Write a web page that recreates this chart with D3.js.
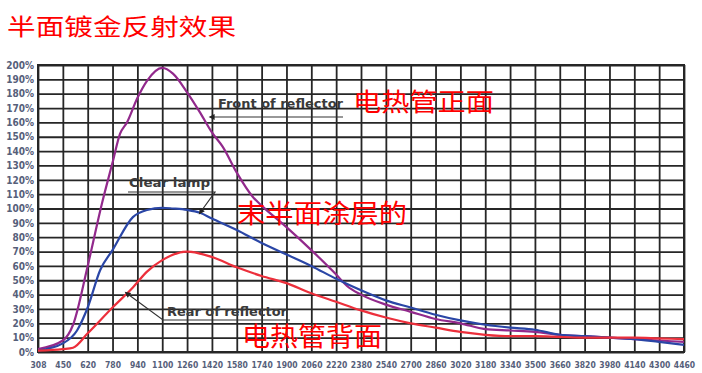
<!DOCTYPE html>
<html>
<head>
<meta charset="utf-8">
<script src="https://cdn.jsdelivr.net/npm/d3@7"></script>
<style>
  body { margin: 0; background: #fff; }
  svg { display: block; }
  .grid line { stroke: #262626; stroke-width: 1.8; }
  .grid path { display: none; }
  .tick text { fill: #56607a; font-family: "DejaVu Sans", sans-serif; font-stretch: condensed; font-weight: bold; }
  .note { font-family: "DejaVu Sans", sans-serif; font-stretch: condensed; font-weight: bold; fill: #3a3a3a; font-size: 12px; }
  .cn { font-family: "Noto Sans CJK SC", sans-serif; fill: #ff0000; }
</style>
</head>
<body>
<div id="chart"></div>
<script>
// chart size
const width = 702;
const height = 373;

// x tick labels (wavelength, nm) - evenly spaced on the chart
const xTicks = [308, 450, 620, 780, 940, 1100, 1260, 1420, 1580, 1740, 1900, 2060, 2220, 2380,
  2540, 2700, 2860, 3020, 3180, 3340, 3500, 3660, 3820, 3980, 4140, 4300, 4460];
// y tick values (%)
const yTicks = d3.range(0, 201, 10);

// Front of reflector (purple)
const frontX = [308, 450, 520, 620, 713, 780, 828, 873, 940, 1002, 1100, 1169, 1260, 1343, 1420, 1490,
  1580, 1684, 1740, 1900, 2060, 2220, 2290, 2380, 2540, 2700, 2860, 3020, 3180, 3340, 3500, 3660,
  3820, 3980, 4140, 4300, 4460];
const frontY = [2, 8, 19, 60, 104, 132, 152, 160, 177, 189, 198, 194, 181, 167, 153, 143,
  125, 108, 102, 87, 71, 54, 46, 40, 33, 28, 23, 20, 16, 15, 14, 12,
  11, 10, 9, 8, 7];

// Clear lamp (blue)
const clearX = [308, 450, 547, 620, 700, 780, 911, 1002, 1100, 1169, 1260, 1343, 1420, 1580, 1740,
  1900, 2060, 2220, 2380, 2540, 2700, 2860, 3020, 3180, 3340, 3500, 3660, 3820, 3980, 4140, 4300, 4460];
const clearY = [1, 6, 15, 31, 57, 71, 94, 99, 100.5, 100, 99, 97, 93, 85, 76,
  68, 60, 51, 43, 36, 31, 26, 22, 19, 17, 15.5, 12, 11, 10, 9, 7, 5];

// Rear of reflector (red)
const rearX = [308, 450, 520, 620, 780, 911, 1002, 1100, 1260, 1426, 1580, 1740, 1900, 2060, 2220,
  2380, 2540, 2700, 2860, 3020, 3180, 3340, 3500, 3660, 3820, 3980, 4140, 4300, 4460];
const rearY = [1, 2, 3, 13, 31, 45, 56, 64, 70, 66, 59, 53, 48, 41, 35,
  29, 24, 20, 17, 14, 12, 11, 11, 10.5, 10, 10, 10, 9.5, 9];

const series = [
  { xs: frontX, ys: frontY, color: "#92298c" },
  { xs: clearX, ys: clearY, color: "#2a46a6" },
  { xs: rearX, ys: rearY, color: "#ec2f3b" }
];

const plot = { left: 38, right: 684, top: 65, bottom: 352 };

const svg = d3.select("#chart")
  .append("svg")
  .attr("width", width)
  .attr("height", height);

// piecewise scale: ticks are evenly spaced
const x = d3.scaleLinear()
  .domain(xTicks)
  .range(xTicks.map((d, i) => plot.left + i * (plot.right - plot.left) / (xTicks.length - 1)));

const y = d3.scaleLinear()
  .domain([0, 200])
  .range([plot.bottom, plot.top]);

// grid + labels
svg.append("g")
  .attr("class", "grid")
  .attr("transform", `translate(0,${plot.bottom})`)
  .call(d3.axisBottom(x).tickValues(xTicks).tickFormat(d3.format("d"))
    .tickSize(-(plot.bottom - plot.top)).tickPadding(10))
  .selectAll("text")
  .style("font-size", "8.5px");

svg.append("g")
  .attr("class", "grid")
  .attr("transform", `translate(${plot.left},0)`)
  .call(d3.axisLeft(y).tickValues(yTicks).tickFormat(d => d + "%")
    .tickSize(-(plot.right - plot.left)).tickPadding(4))
  .selectAll("text")
  .style("font-size", "10px");

svg.append("rect")
  .attr("x", plot.left).attr("y", plot.top)
  .attr("width", plot.right - plot.left).attr("height", plot.bottom - plot.top)
  .attr("fill", "none").attr("stroke", "#262626").attr("stroke-width", 2);

// curves
const line = d3.line()
  .x(d => x(d[0]))
  .y(d => y(d[1]))
  .curve(d3.curveMonotoneX);

series.forEach(s => {
  svg.append("path")
    .datum(s.xs.map((d, i) => [d, s.ys[i]]))
    .attr("fill", "none")
    .attr("stroke", s.color)
    .attr("stroke-width", 2.2)
    .attr("d", line);
});

// arrow marker
svg.append("defs").append("marker")
  .attr("id", "arrow")
  .attr("viewBox", "0 0 10 10")
  .attr("refX", 1).attr("refY", 5)
  .attr("markerWidth", 7).attr("markerHeight", 5)
  .attr("orient", "auto-start-reverse")
  .append("path")
  .attr("d", "M0,0L10,5L0,10z")
  .attr("fill", "#222");

function leader(points) {
  svg.append("path")
    .attr("d", d3.line()(points))
    .attr("fill", "none")
    .attr("stroke", "#333")
    .attr("stroke-width", 1.2)
    .attr("marker-start", "url(#arrow)");
}

// annotations
svg.append("text").attr("class", "note")
  .attr("x", 218).attr("y", 108)
  .attr("textLength", 125).attr("lengthAdjust", "spacingAndGlyphs")
  .text("Front of reflector");
leader([[214, 117], [343, 117]]);

svg.append("text").attr("class", "note")
  .attr("x", 129).attr("y", 187)
  .attr("textLength", 81).attr("lengthAdjust", "spacingAndGlyphs")
  .text("Clear lamp");
leader([[202, 210], [215, 192], [128, 192]]);

svg.append("text").attr("class", "note")
  .attr("x", 167).attr("y", 316)
  .attr("textLength", 120).attr("lengthAdjust", "spacingAndGlyphs")
  .text("Rear of reflector");
leader([[129, 295], [163, 320], [290, 320]]);

// chinese labels
const cn = [
  { t: "半面镀金反射效果", x: 7, y: 35, w: 229, s: 23 },
  { t: "电热管正面", x: 353, y: 111, w: 141, s: 25 },
  { t: "末半面涂层的", x: 237, y: 223, w: 170, s: 26 },
  { t: "电热管背面", x: 242, y: 346, w: 140, s: 26 }
];
svg.selectAll("text.cn")
  .data(cn)
  .enter()
  .append("text")
  .attr("class", "cn")
  .attr("x", d => d.x)
  .attr("y", d => d.y)
  .attr("textLength", d => d.w)
  .attr("lengthAdjust", "spacingAndGlyphs")
  .style("font-size", d => d.s + "px")
  .text(d => d.t);
</script>
</body>
</html>
